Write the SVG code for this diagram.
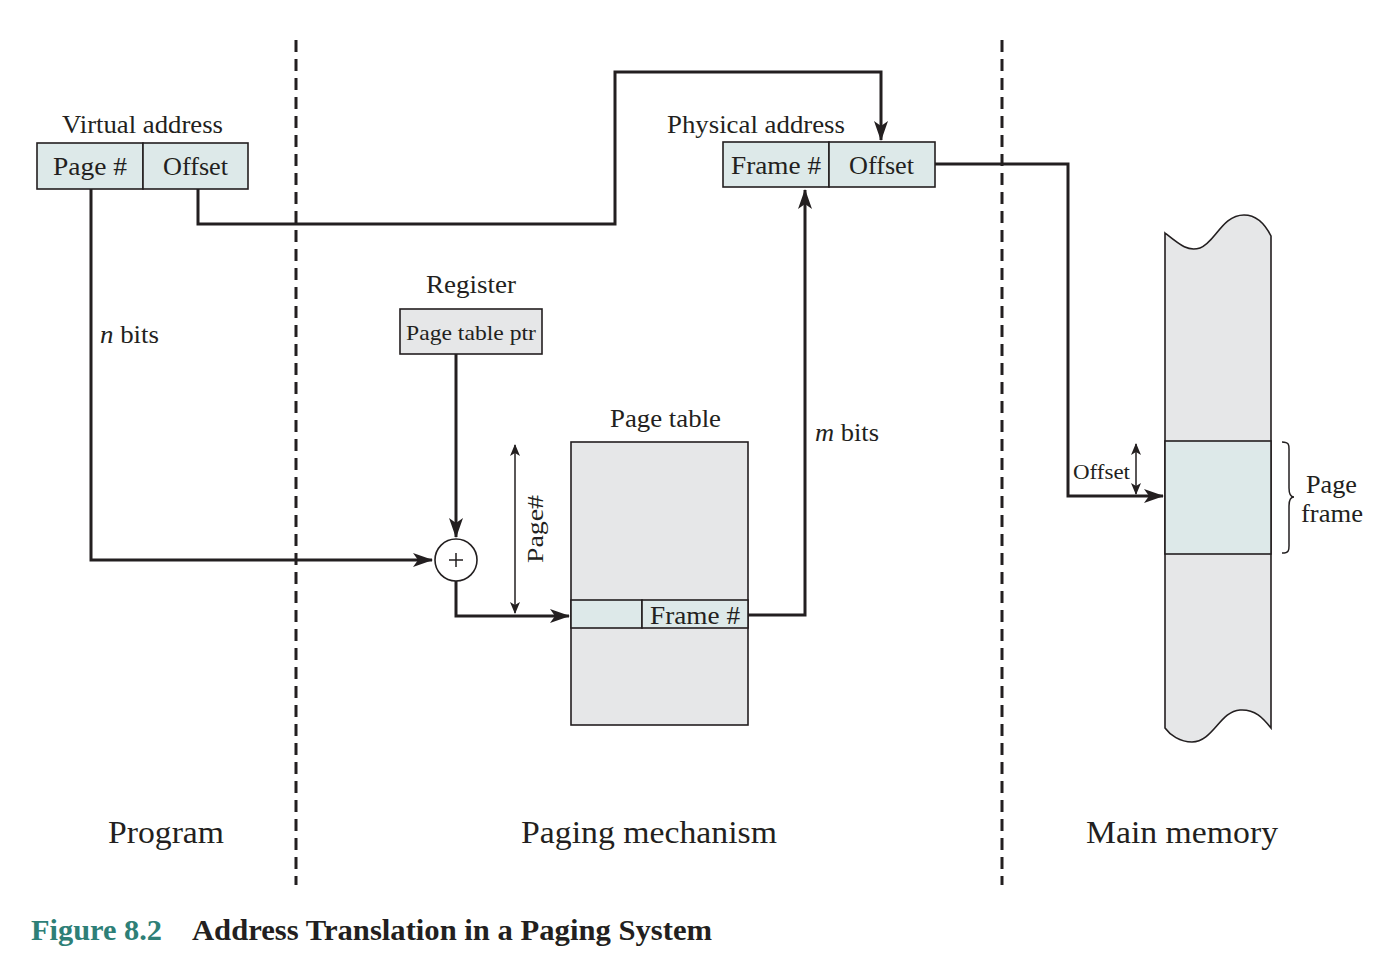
<svg xmlns="http://www.w3.org/2000/svg" width="1394" height="976" viewBox="0 0 1394 976">
<defs>
<style>
.t{font-family:"Liberation Serif","Times New Roman",serif;fill:#231f20}
.box{fill:#dde9e9;stroke:#231f20;stroke-width:1.6}
.gray{fill:#e6e7e8;stroke:#231f20;stroke-width:1.6}
.conn{fill:none;stroke:#231f20;stroke-width:3}
.thin{fill:none;stroke:#231f20;stroke-width:1.5}
.dash{stroke:#231f20;stroke-width:3;stroke-dasharray:12,7}
</style>
<marker id="ah" viewBox="0 0 20 14" refX="19" refY="7" markerWidth="20" markerHeight="14" markerUnits="userSpaceOnUse" orient="auto">
<path d="M0,0 L20,7 L0,14 L5,7 Z" fill="#231f20"/>
</marker>
<marker id="as" viewBox="0 0 12 10" refX="11" refY="5" markerWidth="12" markerHeight="10" markerUnits="userSpaceOnUse" orient="auto-start-reverse">
<path d="M0,0 L12,5 L0,10 L3,5 Z" fill="#231f20"/>
</marker>
</defs>
<rect width="1394" height="976" fill="#ffffff"/>

<g id="dividers">
<line class="dash" x1="296" y1="40" x2="296" y2="885"/>
<line class="dash" x1="1002" y1="40" x2="1002" y2="885"/>
</g>

<g id="connectors">
<path class="conn" d="M91,189 V560 H432" marker-end="url(#ah)"/>
<path class="conn" d="M198,189 V224 H615 V72 H881 V140" marker-end="url(#ah)"/>
<path class="conn" d="M456,354 V537" marker-end="url(#ah)"/>
<path class="conn" d="M456,581 V616 H569" marker-end="url(#ah)"/>
<path class="conn" d="M748,615 H805 V190" marker-end="url(#ah)"/>
<path class="conn" d="M935,164 H1068 V496 H1163" marker-end="url(#ah)"/>
<path class="thin" d="M515,445 V613" marker-start="url(#as)" marker-end="url(#as)"/>
<path class="thin" d="M1136,444 V494" marker-start="url(#as)" marker-end="url(#as)"/>
</g>

<g id="virtual-address">
<text class="t" x="62" y="133" font-size="25" textLength="161" lengthAdjust="spacingAndGlyphs">Virtual address</text>
<rect class="box" x="37" y="143" width="106" height="46"/>
<rect class="box" x="143" y="143" width="105" height="46"/>
<text class="t" x="53" y="175" font-size="25" textLength="74" lengthAdjust="spacingAndGlyphs">Page #</text>
<text class="t" x="163" y="175" font-size="25" textLength="65" lengthAdjust="spacingAndGlyphs">Offset</text>
</g>

<g id="physical-address">
<text class="t" x="667" y="133" font-size="25" textLength="178" lengthAdjust="spacingAndGlyphs">Physical address</text>
<rect class="box" x="723" y="142" width="106" height="45"/>
<rect class="box" x="829" y="142" width="106" height="45"/>
<text class="t" x="731" y="174" font-size="25" textLength="90" lengthAdjust="spacingAndGlyphs">Frame #</text>
<text class="t" x="849" y="174" font-size="25" textLength="65" lengthAdjust="spacingAndGlyphs">Offset</text>
</g>

<g id="register">
<text class="t" x="426" y="293" font-size="25" textLength="90" lengthAdjust="spacingAndGlyphs">Register</text>
<rect class="gray" x="400" y="309" width="142" height="45"/>
<text class="t" x="406" y="340" font-size="22" textLength="130" lengthAdjust="spacingAndGlyphs">Page table ptr</text>
</g>

<g id="adder">
<circle cx="456" cy="560" r="21" fill="#ffffff" stroke="#231f20" stroke-width="1.6"/>
<path d="M449,560 H463 M456,553 V567" stroke="#231f20" stroke-width="1.5"/>
</g>

<g id="page-table">
<text class="t" x="610" y="427" font-size="25" textLength="111" lengthAdjust="spacingAndGlyphs">Page table</text>
<rect class="gray" x="571" y="442" width="177" height="283"/>
<rect class="box" x="571" y="600" width="71" height="28"/>
<rect class="box" x="642" y="600" width="106" height="28"/>
<text class="t" x="650" y="624" font-size="25" textLength="90" lengthAdjust="spacingAndGlyphs">Frame #</text>
<text class="t" font-size="23" textLength="68" lengthAdjust="spacingAndGlyphs" transform="translate(543,563) rotate(-90)">Page#</text>
</g>

<g id="labels">
<text class="t" x="100" y="343" font-size="25" textLength="59" lengthAdjust="spacingAndGlyphs"><tspan font-style="italic">n</tspan> bits</text>
<text class="t" x="815" y="441" font-size="25" textLength="64" lengthAdjust="spacingAndGlyphs"><tspan font-style="italic">m</tspan> bits</text>
<text class="t" x="1073" y="479" font-size="21" textLength="57" lengthAdjust="spacingAndGlyphs">Offset</text>
</g>

<g id="main-memory">
<path class="gray" d="M1165,233 C1180,245 1188,252 1200,248 C1215,243 1222,215 1244,215 C1258,215 1266,226 1271,236 V728 C1263,718 1255,709 1240,710 C1220,711 1213,742 1192,742 C1180,742 1170,735 1165,728 Z"/>
<rect class="box" x="1165" y="441" width="106" height="113"/>
<path class="thin" d="M1282,442 C1290,442 1289,446 1289,452 V488 C1289,494 1290,497 1294,497 C1290,497 1289,500 1289,506 V543 C1289,549 1290,553 1282,553"/>
<text class="t" x="1306" y="493" font-size="25" textLength="51" lengthAdjust="spacingAndGlyphs">Page</text>
<text class="t" x="1301" y="522" font-size="25" textLength="62" lengthAdjust="spacingAndGlyphs">frame</text>
</g>

<g id="section-labels">
<text class="t" x="108" y="843" font-size="32" textLength="116" lengthAdjust="spacingAndGlyphs">Program</text>
<text class="t" x="521" y="843" font-size="32" textLength="256" lengthAdjust="spacingAndGlyphs">Paging mechanism</text>
<text class="t" x="1086" y="843" font-size="32" textLength="192" lengthAdjust="spacingAndGlyphs">Main memory</text>
</g>

<g id="caption">
<text x="31" y="940" font-family="Liberation Serif,serif" font-weight="bold" font-size="29" fill="#2e7f77" textLength="131" lengthAdjust="spacingAndGlyphs">Figure 8.2</text>
<text x="192" y="940" font-family="Liberation Serif,serif" font-weight="bold" font-size="29" fill="#231f20" textLength="520" lengthAdjust="spacingAndGlyphs">Address Translation in a Paging System</text>
</g>
</svg>
